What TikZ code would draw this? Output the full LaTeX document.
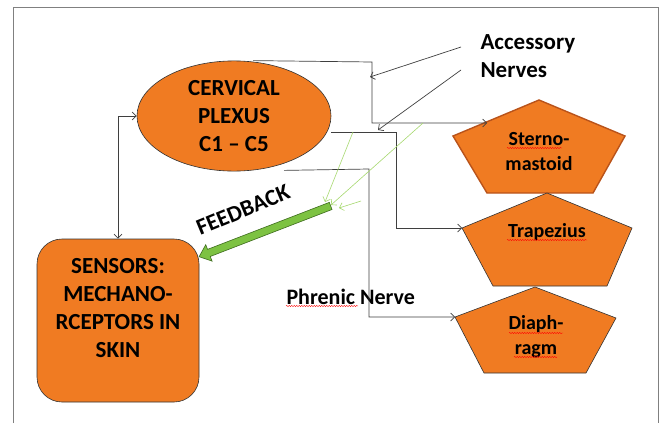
\documentclass[tikz,border=0pt]{standalone}
\usepackage{fontspec}
\setmainfont{Carlito}
\usetikzlibrary{arrows.meta,shapes.geometric,shapes.arrows,decorations.pathmorphing}
\definecolor{plexusorange}{HTML}{F07B22}
\definecolor{feedgreen}{HTML}{7DC242}
\definecolor{feededge}{HTML}{3E6B1E}
\definecolor{litegreen}{HTML}{A6D86E}
\definecolor{nervegray}{HTML}{3F3F3F}
\definecolor{sternoedge}{HTML}{B9531A}
\tikzset{
    >={Straight Barb[length=4pt,width=8pt]},
    % --- styles ---
    nerve/.style={draw=nervegray, line width=0.7pt},
    loopback/.style={draw=litegreen, line width=0.6pt},
    organ/.style={draw=black!80, fill=plexusorange, line width=0.6pt},
    bigtext/.style={font=\fontsize{23}{28}\selectfont\bfseries, align=center},
    muscletext/.style={font=\fontsize{20}{25}\selectfont\bfseries, align=center},
    spellmark/.style={draw=red, line width=0.4pt, decorate,
                      decoration={snake, amplitude=0.6pt, segment length=2.5pt}}
}

\begin{document}
\begin{tikzpicture}[x=1pt, y=-1pt]
    \useasboundingbox (0,0) rectangle (660,423);
    \draw[black!50, line width=0.8pt] (13,423) -- (13,7) -- (658,7) -- (658,423);

    \node[organ, ellipse, minimum width=194, minimum height=108, bigtext] (plexus) at (234,116)
        {CERVICAL\\PLEXUS\\C1 -- C5};

    \node[organ, rectangle, rounded corners=25, minimum width=162, minimum height=163] (sensors) at (118,320.5) {};
    \node[bigtext] (sensorsText) at ([yshift=12pt]sensors.center)
        {SENSORS:\\MECHANO-\\RCEPTORS IN\\SKIN};

    % pentagons
    \draw[organ, draw=sternoedge, line width=1.4pt] (539,100) -- (625,136) -- (593,193) -- (487,193) -- (453,136) -- cycle;
    \draw[organ] (547,193) -- (632,228) -- (607,286) -- (493,286) -- (462,228) coordinate (trapL) -- cycle;
    \draw[organ] (535,287) -- (616,318) -- (586,373) -- (484,373) -- (455,317) coordinate (diaphL) -- cycle;
    \coordinate (sternoL) at (487,123);

    \node[muscletext] (sterno) at (539,151.5) {Sterno-\\mastoid};
    \node[muscletext] (trapezius) at (547,232) {Trapezius};
    \node[muscletext] (diaph) at (536,336.5) {Diaph-\\ragm};

    \node[bigtext, align=left, anchor=west] (accessory) at (477,56) {Accessory\\Nerves};
    \node[font=\fontsize{22}{26}\selectfont\bfseries, anchor=west] (phrenic) at (283,297) {Phrenic Nerve};
    \node[bigtext, rotate=22.5, inner sep=1pt] (feedbackText) at (243,210) {FEEDBACK};

    % spell-check marks
    \draw[spellmark] (507,148) -- (562,148);
    \draw[spellmark] (507,240) -- (587,240);
    \draw[spellmark] (509,333) -- (563,333);
    \draw[spellmark] (514,357) -- (557,357);
    \draw[spellmark] (286,306) -- (358,306);

    % nerves
    \draw[nerve,->] ([xshift=19pt]plexus.north) -- (372,62) |- (sternoL);
    \draw[nerve,->] ([yshift=-16pt]plexus.east) -- (396,132) |- (trapL);
    \draw[nerve,->] ([xshift=50pt,yshift=1pt]plexus.south) -- (369,169) |- (diaphL);
    \draw[nerve,<->] (sensors.north) |- (plexus.west);

    \coordinate (acc1) at (461,47);
    \coordinate (acc2) at (461,70);
    \draw[nerve,->] (acc1) -- (370,77);
    \draw[nerve,->] (acc2) -- (378,130);

    % feedback arrow
    \node[single arrow, draw=feededge, fill=feedgreen, line width=0.6pt, inner sep=3.5pt,
          minimum height=141, single arrow head extend=5pt, single arrow tip angle=80,
          rotate=201.1] (feedback) at (267,230.5) {};

    \coordinate (fb1) at (353,132);
    \coordinate (fb2) at (423,123);
    \coordinate (fb3) at (361,201);
    \draw[loopback,->] (fb1) -- (325,202);
    \draw[loopback,->] (fb2) -- (331,205);
    \draw[loopback,->] (fb3) -- (339,208);
\end{tikzpicture}
\end{document}
